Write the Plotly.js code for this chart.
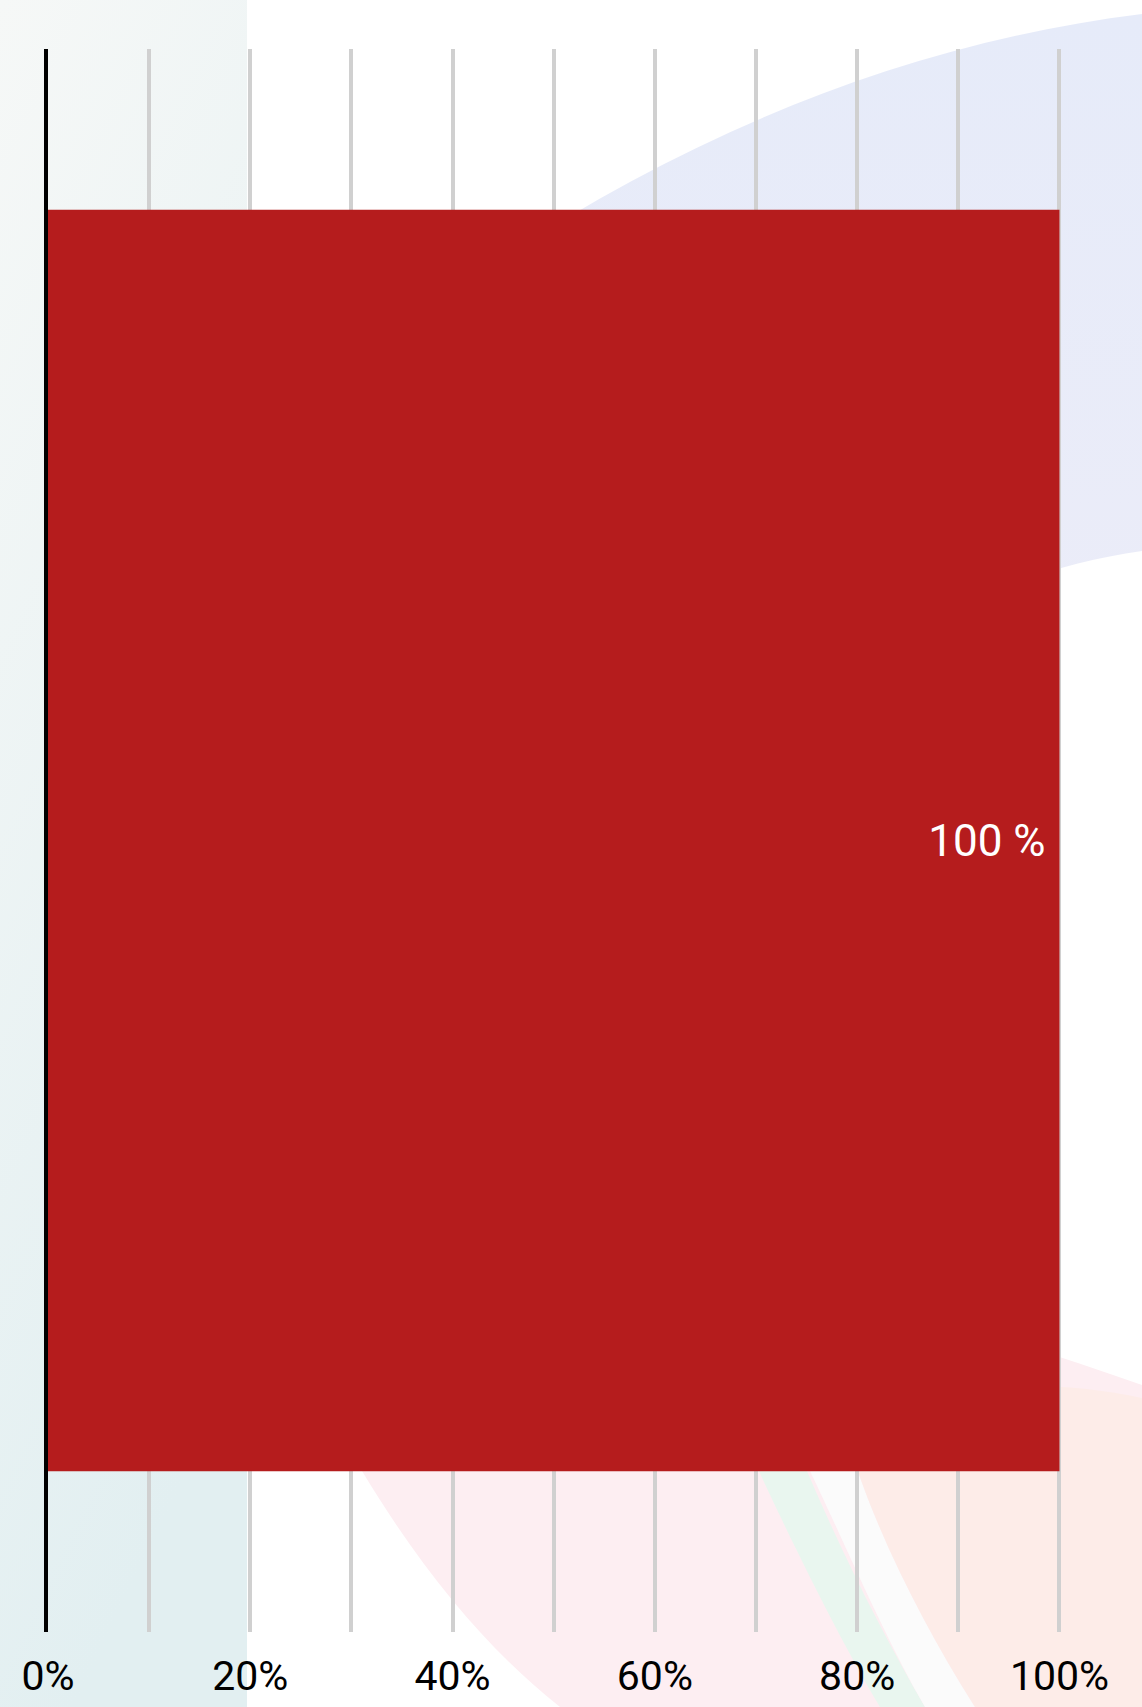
<!DOCTYPE html>
<html>
<head>
<meta charset="utf-8">
<script src="https://cdn.plot.ly/plotly-3.0.1.min.js"></script>
<style>
  html, body { margin: 0; padding: 0; background: #ffffff; }
  #wrap { position: relative; width: 1142px; height: 1707px; overflow: hidden; }
  #bg { position: absolute; left: 0; top: 0; }
  #chart { position: absolute; left: 0; top: 0; width: 1142px; height: 1707px; }
</style>
</head>
<body>
<div id="wrap">
  <svg id="bg" width="1142" height="1707" viewBox="0 0 1142 1707">
    <defs>
      <linearGradient id="leftGrad" x1="0" y1="0" x2="0.3" y2="1">
        <stop offset="0" stop-color="#f6f8f7"/>
        <stop offset="1" stop-color="#e2eff1"/>
      </linearGradient>
      <linearGradient id="blueGrad" x1="0" y1="0" x2="0" y2="1">
        <stop offset="0" stop-color="#e6ebf9"/>
        <stop offset="1" stop-color="#eeedf8"/>
      </linearGradient>
    </defs>
    <rect x="0" y="0" width="1142" height="1707" fill="#ffffff"/>
    <rect x="0" y="0" width="247" height="1707" fill="url(#leftGrad)"/>
    <path d="M 400,330 C 600,180 850,50 1142,14 L 1142,551 C 900,585 700,760 600,1000 L 300,1000 Z" fill="url(#blueGrad)"/>
    <path d="M 250,1250 C 350,1480 450,1620 560,1707 L 1142,1707 L 1142,1385 C 900,1300 700,1250 250,1250 Z" fill="#fdeef2"/>
    <path d="M 740,1430 C 790,1540 840,1640 880,1707 L 925,1707 C 880,1630 830,1530 790,1430 Z" fill="#e9f6ef"/>
    <path d="M 790,1430 C 840,1530 880,1630 925,1707 L 975,1707 C 920,1620 870,1520 845,1430 Z" fill="#fbfbfb"/>
    <path d="M 845,1430 C 870,1520 920,1620 975,1707 L 1142,1707 L 1142,1398 C 1000,1368 900,1400 845,1430 Z" fill="#fdece8"/>
  </svg>
  <div id="chart"></div>
</div>
<script>
// Data
const categories = ['Total'];
const values = [100];
const valueSuffix = ' %';
const tickSuffix = '%';

const trace = {
  type: 'bar',
  orientation: 'h',
  x: values,
  y: categories,
  marker: { color: '#b51c1d', line: { width: 0 } },
  text: values.map(v => v + valueSuffix + '\u00a0'),
  textposition: 'inside',
  insidetextanchor: 'end',
  textangle: 0,
  textfont: { family: 'Roboto, sans-serif', size: 44, color: '#ffffff' },
  hoverinfo: 'none'
};

const layout = {
  width: 1142,
  height: 1707,
  margin: { l: 48, r: 80, t: 49, b: 75, pad: 0 },
  paper_bgcolor: 'rgba(0,0,0,0)',
  plot_bgcolor: 'rgba(0,0,0,0)',
  showlegend: false,
  bargap: 0.203,
  font: { family: 'Roboto, sans-serif', color: '#000000' },
  xaxis: {
    range: [0, 100.25],
    dtick: 20,
    tick0: 0,
    ticksuffix: tickSuffix,
    showgrid: true,
    gridcolor: '#d0d0d0',
    gridwidth: 4,
    minor: { dtick: 10, showgrid: true, gridcolor: '#d0d0d0', gridwidth: 4 },
    zeroline: false,
    showline: false,
    ticks: '',
    ticklabelstandoff: 16,
    tickfont: { family: 'Roboto, sans-serif', size: 41, color: '#000000' },
    fixedrange: true
  },
  yaxis: {
    showticklabels: false,
    showgrid: false,
    zeroline: false,
    showline: true,
    linecolor: '#000000',
    linewidth: 4,
    ticks: '',
    fixedrange: true
  }
};

Plotly.newPlot('chart', [trace], layout, { staticPlot: true, displayModeBar: false });
</script>
</body>
</html>
